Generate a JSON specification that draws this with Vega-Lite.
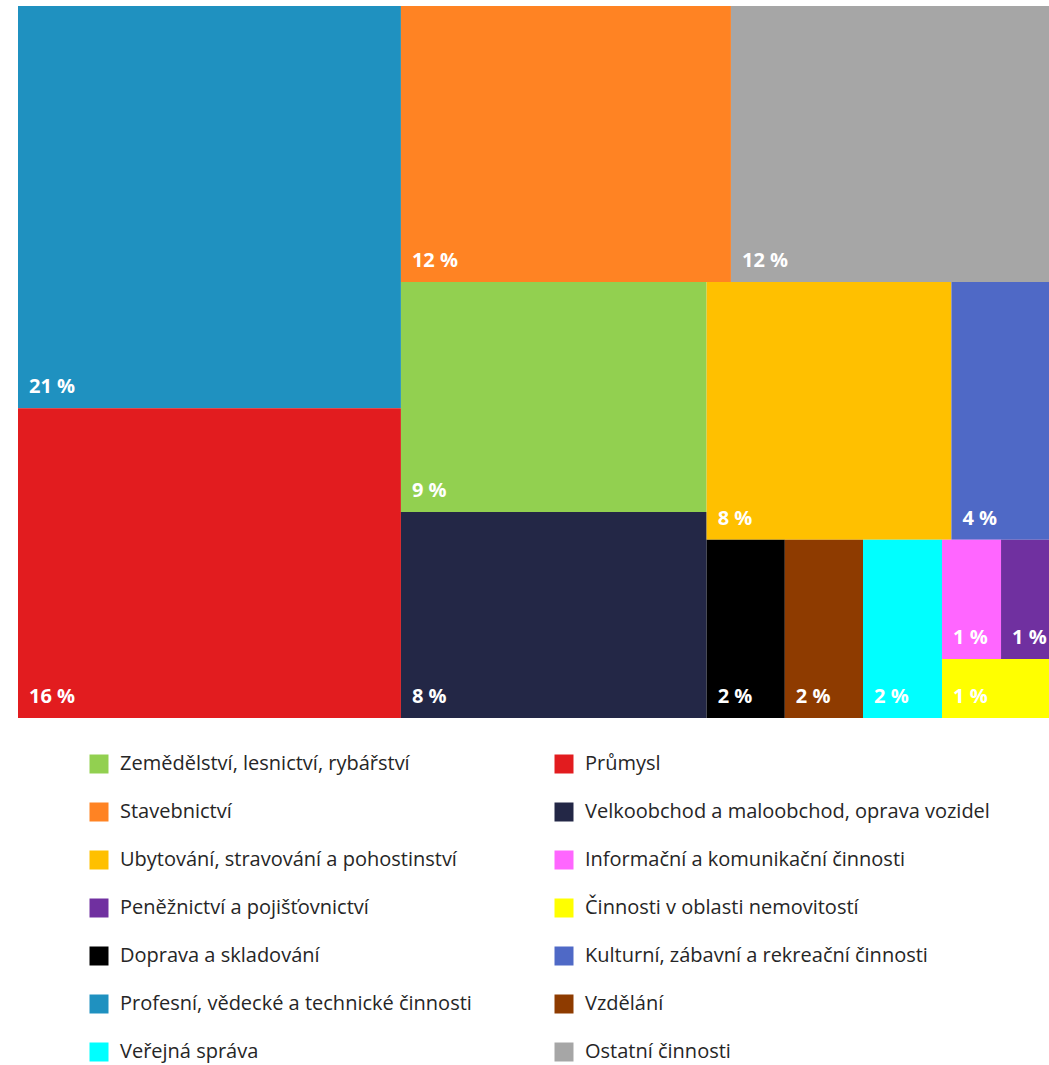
{
  "$schema": "https://vega.github.io/schema/vega-lite/v6.json",
  "width": 1031,
  "height": 712,
  "autosize": {"type": "none"},
  "padding": {"left": 18, "top": 6, "right": 0, "bottom": 347},
  "background": "white",
  "config": {"view": {"stroke": null}, "font": "Open Sans"},
  "data": {
    "values": [
      {"name": "Profesní, vědecké a technické činnosti", "path": "A/a1", "value": 20.99, "pct": 21},
      {"name": "Průmysl", "path": "A/a2", "value": 16.17, "pct": 16},
      {"name": "Stavebnictví", "path": "R/R1/r1", "value": 12.41, "pct": 12},
      {"name": "Ostatní činnosti", "path": "R/R1/r2", "value": 11.96, "pct": 12},
      {"name": "Zemědělství, lesnictví, rybářství", "path": "R/R2/B/b1", "value": 9.59, "pct": 9},
      {"name": "Velkoobchod a maloobchod, oprava vozidel", "path": "R/R2/B/b2", "value": 8.58, "pct": 8},
      {"name": "Ubytování, stravování a pohostinství", "path": "R/R2/C/C1/c1", "value": 8.60, "pct": 8},
      {"name": "Kulturní, zábavní a rekreační činnosti", "path": "R/R2/C/C1/c2", "value": 3.43, "pct": 4},
      {"name": "Doprava a skladování", "path": "R/R2/C/C2/d1", "value": 1.90, "pct": 2},
      {"name": "Vzdělání", "path": "R/R2/C/C2/d2", "value": 1.90, "pct": 2},
      {"name": "Veřejná správa", "path": "R/R2/C/C2/d3", "value": 1.92, "pct": 2},
      {"name": "Informační a komunikační činnosti", "path": "R/R2/C/C2/D/D1/e1", "value": 0.96, "pct": 1},
      {"name": "Peněžnictví a pojišťovnictví", "path": "R/R2/C/C2/D/D1/e2", "value": 0.78, "pct": 1},
      {"name": "Činnosti v oblasti nemovitostí", "path": "R/R2/C/C2/D/e3", "value": 0.86, "pct": 1}
    ]
  },
  "transform": [
    {"window": [{"op": "row_number", "as": "ord"}]},
    {"joinaggregate": [{"op": "sum", "field": "value", "as": "s0"}]},
    {"calculate": "''", "as": "n0"},
    {"calculate": "0", "as": "x0"},
    {"calculate": "1", "as": "x1"},
    {"calculate": "0", "as": "y0"},
    {"calculate": "1", "as": "y1"},

    {"calculate": "join(slice(split(datum.path,'/'),0,1),'/')", "as": "n1"},
    {"joinaggregate": [{"op": "sum", "field": "value", "as": "s1"}], "groupby": ["n1"]},
    {"window": [{"op": "sum", "field": "value", "as": "c1"}], "sort": [{"field": "ord"}], "groupby": ["n0"], "frame": [null, 0]},
    {"calculate": "datum.c1 - datum.value", "as": "p1"},
    {"joinaggregate": [{"op": "min", "field": "p1", "as": "o1"}], "groupby": ["n1"]},
    {"calculate": "datum.x0 + (datum.x1 - datum.x0) * (datum.o1 + datum.s1) / datum.s0", "as": "x1"},
    {"calculate": "datum.x0 + (datum.x1 - datum.x0) * datum.o1 / (datum.o1 + datum.s1)", "as": "x0"},

    {"calculate": "join(slice(split(datum.path,'/'),0,2),'/')", "as": "n2"},
    {"joinaggregate": [{"op": "sum", "field": "value", "as": "s2"}], "groupby": ["n2"]},
    {"window": [{"op": "sum", "field": "value", "as": "c2"}], "sort": [{"field": "ord"}], "groupby": ["n1"], "frame": [null, 0]},
    {"calculate": "datum.c2 - datum.value", "as": "p2"},
    {"joinaggregate": [{"op": "min", "field": "p2", "as": "o2"}], "groupby": ["n2"]},
    {"calculate": "datum.y0 + (datum.y1 - datum.y0) * (datum.o2 + datum.s2) / datum.s1", "as": "y1"},
    {"calculate": "datum.y0 + (datum.y1 - datum.y0) * datum.o2 / (datum.o2 + datum.s2)", "as": "y0"},

    {"calculate": "join(slice(split(datum.path,'/'),0,3),'/')", "as": "n3"},
    {"joinaggregate": [{"op": "sum", "field": "value", "as": "s3"}], "groupby": ["n3"]},
    {"window": [{"op": "sum", "field": "value", "as": "c3"}], "sort": [{"field": "ord"}], "groupby": ["n2"], "frame": [null, 0]},
    {"calculate": "datum.c3 - datum.value", "as": "p3"},
    {"joinaggregate": [{"op": "min", "field": "p3", "as": "o3"}], "groupby": ["n3"]},
    {"calculate": "datum.x0 + (datum.x1 - datum.x0) * (datum.o3 + datum.s3) / datum.s2", "as": "x1"},
    {"calculate": "datum.x0 + (datum.x1 - datum.x0) * datum.o3 / (datum.o3 + datum.s3)", "as": "x0"},

    {"calculate": "join(slice(split(datum.path,'/'),0,4),'/')", "as": "n4"},
    {"joinaggregate": [{"op": "sum", "field": "value", "as": "s4"}], "groupby": ["n4"]},
    {"window": [{"op": "sum", "field": "value", "as": "c4"}], "sort": [{"field": "ord"}], "groupby": ["n3"], "frame": [null, 0]},
    {"calculate": "datum.c4 - datum.value", "as": "p4"},
    {"joinaggregate": [{"op": "min", "field": "p4", "as": "o4"}], "groupby": ["n4"]},
    {"calculate": "datum.y0 + (datum.y1 - datum.y0) * (datum.o4 + datum.s4) / datum.s3", "as": "y1"},
    {"calculate": "datum.y0 + (datum.y1 - datum.y0) * datum.o4 / (datum.o4 + datum.s4)", "as": "y0"},

    {"calculate": "join(slice(split(datum.path,'/'),0,5),'/')", "as": "n5"},
    {"joinaggregate": [{"op": "sum", "field": "value", "as": "s5"}], "groupby": ["n5"]},
    {"window": [{"op": "sum", "field": "value", "as": "c5"}], "sort": [{"field": "ord"}], "groupby": ["n4"], "frame": [null, 0]},
    {"calculate": "datum.c5 - datum.value", "as": "p5"},
    {"joinaggregate": [{"op": "min", "field": "p5", "as": "o5"}], "groupby": ["n5"]},
    {"calculate": "datum.x0 + (datum.x1 - datum.x0) * (datum.o5 + datum.s5) / datum.s4", "as": "x1"},
    {"calculate": "datum.x0 + (datum.x1 - datum.x0) * datum.o5 / (datum.o5 + datum.s5)", "as": "x0"},

    {"calculate": "join(slice(split(datum.path,'/'),0,6),'/')", "as": "n6"},
    {"joinaggregate": [{"op": "sum", "field": "value", "as": "s6"}], "groupby": ["n6"]},
    {"window": [{"op": "sum", "field": "value", "as": "c6"}], "sort": [{"field": "ord"}], "groupby": ["n5"], "frame": [null, 0]},
    {"calculate": "datum.c6 - datum.value", "as": "p6"},
    {"joinaggregate": [{"op": "min", "field": "p6", "as": "o6"}], "groupby": ["n6"]},
    {"calculate": "datum.y0 + (datum.y1 - datum.y0) * (datum.o6 + datum.s6) / datum.s5", "as": "y1"},
    {"calculate": "datum.y0 + (datum.y1 - datum.y0) * datum.o6 / (datum.o6 + datum.s6)", "as": "y0"},

    {"calculate": "join(slice(split(datum.path,'/'),0,7),'/')", "as": "n7"},
    {"joinaggregate": [{"op": "sum", "field": "value", "as": "s7"}], "groupby": ["n7"]},
    {"window": [{"op": "sum", "field": "value", "as": "c7"}], "sort": [{"field": "ord"}], "groupby": ["n6"], "frame": [null, 0]},
    {"calculate": "datum.c7 - datum.value", "as": "p7"},
    {"joinaggregate": [{"op": "min", "field": "p7", "as": "o7"}], "groupby": ["n7"]},
    {"calculate": "datum.x0 + (datum.x1 - datum.x0) * (datum.o7 + datum.s7) / datum.s6", "as": "x1"},
    {"calculate": "datum.x0 + (datum.x1 - datum.x0) * datum.o7 / (datum.o7 + datum.s7)", "as": "x0"},

    {"calculate": "datum.pct + ' %'", "as": "label"}
  ],
  "layer": [
    {
      "mark": {"type": "rect", "strokeWidth": 0},
      "encoding": {
        "x": {"field": "x0", "type": "quantitative", "scale": {"domain": [0, 1], "nice": false, "zero": false}, "axis": null},
        "x2": {"field": "x1"},
        "y": {"field": "y0", "type": "quantitative", "scale": {"domain": [0, 1], "nice": false, "zero": false, "reverse": true}, "axis": null},
        "y2": {"field": "y1"},
        "color": {
          "field": "name",
          "type": "nominal",
          "scale": {
            "domain": [
              "Zemědělství, lesnictví, rybářství",
              "Stavebnictví",
              "Ubytování, stravování a pohostinství",
              "Peněžnictví a pojišťovnictví",
              "Doprava a skladování",
              "Profesní, vědecké a technické činnosti",
              "Veřejná správa",
              "Průmysl",
              "Velkoobchod a maloobchod, oprava vozidel",
              "Informační a komunikační činnosti",
              "Činnosti v oblasti nemovitostí",
              "Kulturní, zábavní a rekreační činnosti",
              "Vzdělání",
              "Ostatní činnosti"
            ],
            "range": ["#92D050", "#FF8323", "#FFC000", "#7030A0", "#000000", "#1F91C0", "#00FFFF", "#E21C1F", "#232746", "#FF66FF", "#FFFF00", "#4F69C6", "#8E3B00", "#A6A6A6"]
          },
          "legend": {
            "title": null,
            "orient": "none",
            "legendX": 71,
            "legendY": 748,
            "columns": 2,
            "symbolType": "square",
            "symbolSize": 361,
            "symbolStrokeWidth": 0,
            "symbolOpacity": 1,
            "labelFont": "Open Sans",
            "labelFontSize": 20,
            "labelColor": "#262626",
            "labelOffset": 11,
            "labelLimit": 600,
            "rowPadding": 28,
            "columnPadding": 82
          }
        }
      }
    },
    {
      "mark": {"type": "text", "align": "left", "baseline": "alphabetic", "dx": 11, "dy": -15, "color": "white", "fontWeight": "bold", "fontSize": 20, "font": "Open Sans"},
      "encoding": {
        "x": {"field": "x0", "type": "quantitative"},
        "y": {"field": "y1", "type": "quantitative"},
        "text": {"field": "label", "type": "nominal"}
      }
    }
  ]
}
